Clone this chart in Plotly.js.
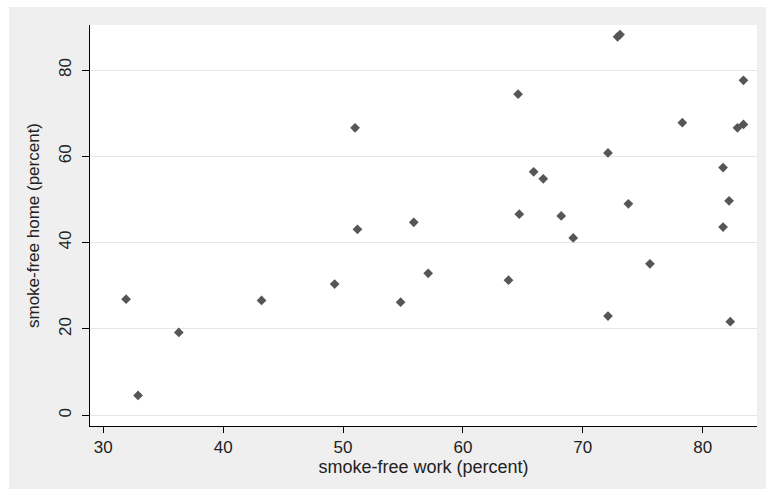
<!DOCTYPE html>
<html>
<head>
<meta charset="utf-8">
<script src="https://cdn.plot.ly/plotly-3.0.1.min.js"></script>
<style>
  html, body { margin: 0; padding: 0; background: #ffffff; }
  #chart { width: 766px; height: 489px; }
</style>
</head>
<body>
<div id="chart"></div>
<script>
// smoke-free work (percent)
const workPct = [31.9, 32.9, 36.3, 43.2, 49.3, 51.2, 51.0, 55.9, 54.8, 57.1,
                 63.8, 64.6, 64.7, 65.9, 66.7, 68.2, 69.2, 72.1, 72.1, 72.9,
                 73.1, 73.8, 75.6, 78.3, 81.7, 81.7, 82.2, 82.3, 82.9, 83.4, 83.4];
// smoke-free home (percent)
const homePct = [26.9, 4.6, 19.2, 26.6, 30.4, 43.1, 66.6, 44.7, 26.2, 32.9,
                 31.3, 74.4, 46.6, 56.4, 54.8, 46.2, 41.1, 60.8, 23.0, 87.7,
                 88.2, 49.0, 35.1, 67.8, 57.4, 43.6, 49.7, 21.7, 66.6, 67.4, 77.6];
const xTicks = [30, 40, 50, 60, 70, 80];
const yTicks = [0, 20, 40, 60, 80];

const FONT = "Liberation Sans, Arial, sans-serif";

const trace = {
  type: 'scatter',
  mode: 'markers',
  x: workPct,
  y: homePct,
  marker: { symbol: 'diamond', size: 7.5, color: '#565656', line: { width: 0 } },
  hoverinfo: 'x+y'
};

const layout = {
  width: 766,
  height: 489,
  margin: { l: 90, r: 9, t: 25, b: 63 },
  paper_bgcolor: '#efefef',
  plot_bgcolor: '#ffffff',
  showlegend: false,
  font: { family: FONT, color: '#222222', size: 17 },
  xaxis: {
    range: [28.89, 84.53],
    tickmode: 'array',
    tickvals: xTicks,
    ticktext: xTicks.map(String),
    ticks: 'outside',
    ticklen: 6,
    tickwidth: 1,
    tickcolor: '#000000',
    showline: true,
    linecolor: '#000000',
    linewidth: 1,
    mirror: false,
    showgrid: false,
    zeroline: false,
    tickfont: { family: FONT, size: 17, color: '#222222' },
    title: { text: 'smoke-free work (percent)', font: { family: FONT, size: 18, color: '#222222' }, standoff: 0 }
  },
  yaxis: {
    range: [-2.48, 90.43],
    tickmode: 'array',
    tickvals: yTicks,
    ticktext: yTicks.map(String),
    ticks: 'outside',
    ticklen: 7,
    tickwidth: 1,
    tickcolor: '#000000',
    tickangle: -90,
    ticklabelstandoff: 4,
    showline: true,
    linecolor: '#000000',
    linewidth: 1,
    mirror: false,
    showgrid: true,
    gridcolor: '#e6e6e6',
    gridwidth: 1,
    zeroline: false,
    tickfont: { family: FONT, size: 17, color: '#222222' },
    title: { text: 'smoke-free home (percent)', font: { family: FONT, size: 17, color: '#222222' }, standoff: 12 }
  },
  shapes: [
    { type: 'rect', xref: 'paper', yref: 'paper', layer: 'below',
      x0: -0.14, x1: 1.02, y0: 1.0449, y1: 1.07,
      fillcolor: '#ffffff', line: { width: 0 } },
    { type: 'rect', xref: 'paper', yref: 'paper', layer: 'below',
      x0: -0.14, x1: -0.1214, y0: -0.17, y1: 1.07,
      fillcolor: '#ffffff', line: { width: 0 } }
  ]
};

Plotly.newPlot('chart', [trace], layout, { displayModeBar: false, staticPlot: true });
</script>
</body>
</html>
